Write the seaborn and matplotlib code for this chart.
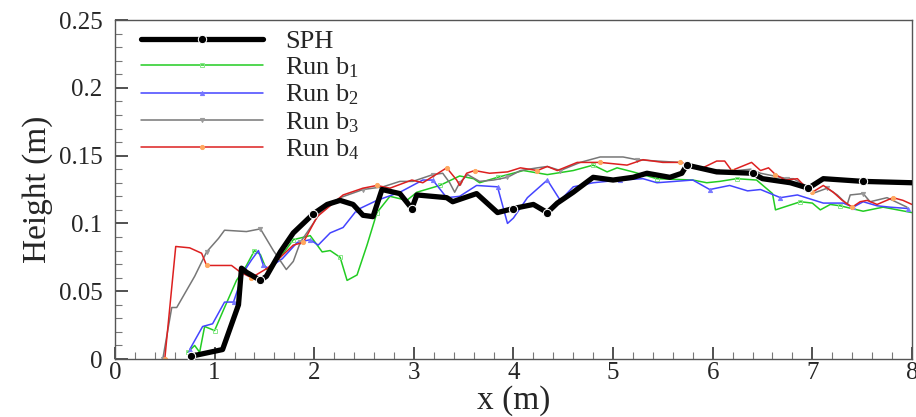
import numpy as np
import pandas as pd
import matplotlib
matplotlib.use('Agg')
import matplotlib.pyplot as plt
import seaborn as sns
from matplotlib.ticker import MultipleLocator, FuncFormatter

# SPH reference solution
sph_x = [0.76, 1.08, 1.24, 1.27, 1.32, 1.46, 1.52, 1.66, 1.79, 1.89, 1.99, 2.13, 2.26, 2.39, 2.49,
         2.59, 2.68, 2.86, 2.98, 3.03, 3.33, 3.39, 3.63, 3.84, 4.0, 4.2, 4.34, 4.44, 4.6, 4.8,
         5.0, 5.2, 5.34, 5.57, 5.69, 5.74, 6.04, 6.4, 6.5, 6.78, 6.96, 7.11, 7.51, 8.0]
sph_y = [0.002, 0.007, 0.040, 0.067, 0.064, 0.058, 0.061, 0.079, 0.093, 0.100, 0.107, 0.114, 0.117, 0.114, 0.106,
         0.105, 0.125, 0.122, 0.111, 0.121, 0.119, 0.116, 0.122, 0.108, 0.111, 0.114, 0.108, 0.115, 0.123, 0.134,
         0.132, 0.134, 0.137, 0.134, 0.137, 0.143, 0.138, 0.137, 0.133, 0.130, 0.126, 0.133, 0.131, 0.130]
sph_marks = [0, 5, 10, 18, 24, 26, 35, 37, 40, 42]

b1_x = [0.73, 0.80, 0.85, 0.90, 1.0, 1.1, 1.22, 1.32, 1.40, 1.46, 1.52, 1.66, 1.79, 1.96, 2.08, 2.16, 2.26,
        2.33, 2.43, 2.53, 2.63, 2.76, 2.93, 3.03, 3.26, 3.46, 3.60, 3.66, 3.84, 4.10, 4.34, 4.60, 4.80,
        4.94, 5.04, 5.20, 5.44, 5.80, 5.94, 6.07, 6.24, 6.44, 6.60, 6.63, 6.88, 7.00, 7.08, 7.18, 7.28,
        7.51, 7.71, 8.0]
b1_y = [0.005, 0.010, 0.005, 0.024, 0.021, 0.038, 0.058, 0.069, 0.080, 0.077, 0.066, 0.075, 0.088, 0.091,
        0.079, 0.080, 0.075, 0.058, 0.062, 0.084, 0.108, 0.120, 0.117, 0.123, 0.128, 0.135, 0.133, 0.130,
        0.134, 0.139, 0.136, 0.139, 0.143, 0.138, 0.141, 0.138, 0.133, 0.132, 0.130, 0.131, 0.133, 0.132,
        0.122, 0.110, 0.116, 0.115, 0.110, 0.114, 0.113, 0.109, 0.112, 0.108]

b2_x = [0.75, 0.88, 0.98, 1.10, 1.19, 1.29, 1.37, 1.44, 1.49, 1.54, 1.68, 1.83, 1.96, 2.04, 2.16, 2.29,
        2.43, 2.63, 2.86, 3.09, 3.19, 3.33, 3.46, 3.63, 3.84, 3.94, 4.0, 4.14, 4.34, 4.47, 4.60, 4.80,
        5.07, 5.30, 5.44, 5.80, 5.97, 6.17, 6.35, 6.48, 6.68, 6.85, 7.11, 7.31, 7.41, 7.51, 7.65, 7.78, 7.96]
b2_y = [0.007, 0.024, 0.026, 0.042, 0.042, 0.064, 0.073, 0.080, 0.069, 0.067, 0.074, 0.086, 0.088, 0.084,
        0.093, 0.097, 0.110, 0.117, 0.123, 0.132, 0.132, 0.119, 0.120, 0.128, 0.127, 0.100, 0.104, 0.119,
        0.132, 0.117, 0.127, 0.130, 0.132, 0.133, 0.130, 0.132, 0.125, 0.128, 0.124, 0.125, 0.119, 0.121,
        0.115, 0.115, 0.112, 0.116, 0.113, 0.112, 0.111]

b3_x = [0.48, 0.57, 0.62, 0.80, 0.92, 1.04, 1.10, 1.32, 1.46, 1.59, 1.72, 1.79, 1.86, 1.99, 2.06, 2.26,
        2.49, 2.69, 2.86, 2.99, 3.19, 3.29, 3.36, 3.41, 3.46, 3.54, 3.66, 3.80, 3.94, 4.07, 4.24, 4.34,
        4.47, 4.67, 4.87, 5.10, 5.24, 5.44, 5.67, 5.87, 6.04, 6.24, 6.38, 6.48, 6.75, 6.81, 6.95, 7.00,
        7.15, 7.25, 7.35, 7.38, 7.51, 7.58, 7.75, 7.95]
b3_y = [0.0, 0.038, 0.038, 0.061, 0.079, 0.089, 0.095, 0.094, 0.096, 0.080, 0.066, 0.072, 0.086, 0.100,
        0.108, 0.119, 0.125, 0.127, 0.131, 0.131, 0.136, 0.137, 0.130, 0.123, 0.130, 0.136, 0.131, 0.132,
        0.134, 0.139, 0.141, 0.142, 0.139, 0.145, 0.149, 0.149, 0.147, 0.146, 0.145, 0.140, 0.139, 0.139,
        0.140, 0.137, 0.133, 0.133, 0.127, 0.122, 0.126, 0.121, 0.114, 0.121, 0.122, 0.116, 0.119, 0.112]

b4_x = [0.50, 0.61, 0.75, 0.87, 0.92, 1.04, 1.17, 1.26, 1.37, 1.53, 1.66, 1.79, 1.89, 2.03, 2.29, 2.49,
        2.63, 2.76, 2.98, 3.09, 3.33, 3.43, 3.46, 3.53, 3.61, 3.76, 3.94, 4.07, 4.24, 4.34, 4.44, 4.64,
        4.87, 5.14, 5.30, 5.50, 5.67, 5.90, 6.04, 6.12, 6.19, 6.39, 6.48, 6.56, 6.63, 6.73, 6.85, 6.93,
        7.00, 7.11, 7.21, 7.30, 7.40, 7.48, 7.55, 7.65, 7.81, 7.91, 8.0]
b4_y = [0.0, 0.083, 0.082, 0.078, 0.069, 0.069, 0.069, 0.064, 0.060, 0.067, 0.075, 0.084, 0.086, 0.105,
        0.121, 0.126, 0.128, 0.126, 0.132, 0.130, 0.141, 0.132, 0.128, 0.137, 0.139, 0.137, 0.138, 0.141,
        0.139, 0.142, 0.139, 0.145, 0.145, 0.143, 0.147, 0.145, 0.145, 0.141, 0.146, 0.146, 0.139, 0.145,
        0.139, 0.141, 0.136, 0.132, 0.133, 0.127, 0.123, 0.128, 0.123, 0.117, 0.112, 0.116, 0.117, 0.114,
        0.119, 0.117, 0.114]

sns.set_theme(style="ticks")
plt.rcParams['font.family'] = ['Liberation Serif', 'DejaVu Serif']
plt.rcParams['mathtext.fontset'] = 'custom'
plt.rcParams['mathtext.rm'] = 'Liberation Serif'
plt.rcParams['mathtext.it'] = 'Liberation Serif'

fig = plt.figure(figsize=(9.16, 4.17), dpi=100)
ax = fig.add_axes([0.1255, 0.139, 0.8701, 0.813])

runs = [
    (b1_x, b1_y, 'Run b$_{1}$', '#22cc22', 's', '#88e888', 'none'),
    (b2_x, b2_y, 'Run b$_{2}$', '#4444ff', '^', '#7777ff', '#7777ff'),
    (b3_x, b3_y, 'Run b$_{3}$', '#777777', 'v', '#999999', '#999999'),
    (b4_x, b4_y, 'Run b$_{4}$', '#dd2020', 'o', '#ffa860', '#ffa860'),
]

sns.lineplot(x=sph_x, y=sph_y, ax=ax, sort=False, estimator=None, color='black',
             linewidth=3.8, marker='o', markersize=6, markevery=sph_marks, label='SPH', zorder=5)
for xs, ys, lab, col, mk, mcol, mfc in runs:
    sns.lineplot(x=xs, y=ys, ax=ax, sort=False, estimator=None, color=col, linewidth=1.1,
                 marker=mk, markersize=3, markevery=4, markeredgecolor=mcol, markerfacecolor=mfc,
                 markeredgewidth=0.7, label=lab)

ax.set_xlim(0, 8)
ax.set_ylim(0, 0.25)
ax.xaxis.set_major_locator(MultipleLocator(1))
ax.xaxis.set_minor_locator(MultipleLocator(0.2))
ax.yaxis.set_major_locator(MultipleLocator(0.05))
ax.yaxis.set_minor_locator(MultipleLocator(0.01))
ax.yaxis.set_major_formatter(FuncFormatter(lambda v, p: f"{v:g}"))
ax.xaxis.set_major_formatter(FuncFormatter(lambda v, p: f"{v:g}"))
ax.tick_params(which='major', direction='in', length=9, width=1.2, color='#333333',
               labelsize=18, top=False, right=False)
ax.tick_params(which='minor', direction='in', length=5, width=0.8, color='#777777',
               top=False, right=False)
ax.tick_params(axis='y', which='major', pad=9)
ax.tick_params(axis='x', which='major', pad=2)
for s in ax.spines.values():
    s.set_color('#555555')
    s.set_linewidth(1.0)

ax.set_xlabel('x (m)', fontsize=24, labelpad=1)
ax.set_ylabel('Height (m)', fontsize=24, labelpad=4)

ax.legend(loc='upper left', bbox_to_anchor=(0.033, 0.972), frameon=False, fontsize=19,
          handlelength=4.6, handletextpad=0.85, labelspacing=0.1, borderpad=0, borderaxespad=0)

fig.savefig('out.png', dpi=100)
